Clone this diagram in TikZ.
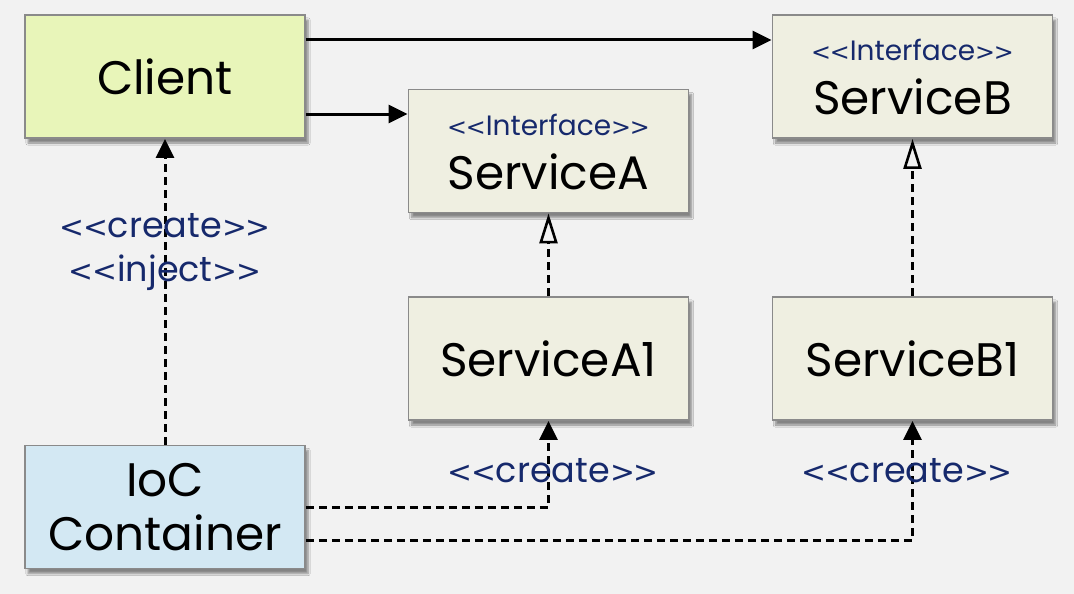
\documentclass[tikz,border=0pt]{standalone}
\usepackage{fontspec}
\setmainfont{Poppins}
\newfontfamily\ltfont{DejaVu Sans}[Scale=0.85]
\usetikzlibrary{arrows.meta,shadows.blur,calc}
\definecolor{bg}{HTML}{F2F2F2}
\definecolor{clientfill}{HTML}{E8F5B9}
\definecolor{svcfill}{HTML}{EFEFE1}
\definecolor{iocfill}{HTML}{D3E8F3}
\definecolor{bordergray}{HTML}{8A8A8A}
\definecolor{stereo}{HTML}{16296C}
\newcommand\stlt{{\ltfont<\kern-0.05em<}}
\newcommand\stgt{{\ltfont>\kern-0.05em>}}
\tikzset{
  box/.style={draw=bordergray, line width=1.8pt, minimum width=280pt, minimum height=123pt,
    inner sep=0pt, align=center, text=black,
    blur shadow={shadow xshift=3pt, shadow yshift=-5pt, shadow blur steps=6, shadow opacity=45},
    font=\fontsize{47}{50}\selectfont},
  conn/.style={line width=3pt, black},
  dashconn/.style={conn, dash pattern=on 8pt off 5pt},
  filledtip/.style={-{Triangle[length=19pt,width=18pt]}},
  opentip/.style={-{Triangle[open,length=30pt,width=18pt,line width=2.6pt]}},
  stereolabel/.style={text=stereo, font=\fontsize{35}{44}\selectfont, align=center, inner sep=0pt},
  ifacelabel/.style={text=stereo, font=\fontsize{28}{30}\selectfont}
}
\begin{document}
\begin{tikzpicture}[x=1pt,y=-1pt]
\fill[bg] (0,0) rectangle (1074,594);
\useasboundingbox (0,0) rectangle (1074,594);

\node[box, fill=clientfill] (client) at (165,76.5) {Client};
\node[box, fill=svcfill] (svcA) at (548.5,151) {};
\node[box, fill=svcfill] (svcB) at (912.5,76.5) {};
\node[box, fill=svcfill] (svcA1) at (548.5,358.5) {ServiceA1};
\node[box, fill=svcfill] (svcB1) at (912.5,358.5) {ServiceB1};
\node[box, fill=iocfill, font=\fontsize{47}{54}\selectfont] (ioc) at (165,507) {IoC\\Container};

\node[ifacelabel] (ifA) at (548.5,125) {\stlt Interface\stgt};
\node[font=\fontsize{47}{50}\selectfont] (nameA) at (548.5,172) {ServiceA};
\node[ifacelabel] (ifB) at (912.5,50) {\stlt Interface\stgt};
\node[font=\fontsize{47}{50}\selectfont] (nameB) at (912.5,97) {ServiceB};

% Client associations
\draw[conn, filledtip] ([yshift=36.5pt]client.east) -- ([yshift=36.5pt]svcB.west);
\draw[conn, filledtip] ([yshift=-37.5pt]client.east) coordinate (c2) -- (c2 -| svcA.west);

% realizations
\draw[dashconn, opentip] (svcA1.north) -- (svcA.south);
\draw[dashconn, opentip] (svcB1.north) -- (svcB.south);

% IoC creations
\draw[dashconn, filledtip] (ioc.north) -- (client.south);
\draw[dashconn, filledtip] (ioc.east) -| (svcA1.south);
\draw[dashconn, filledtip] ([yshift=-33pt]ioc.east) -| (svcB1.south);

% labels
\node[stereolabel] (lblci) at (165,252) {\stlt create\stgt\\\stlt inject\stgt};
\node[stereolabel] (lblA1) at (553,471) {\stlt create\stgt};
\node[stereolabel] (lblB1) at (907,471) {\stlt create\stgt};
\end{tikzpicture}
\end{document}
